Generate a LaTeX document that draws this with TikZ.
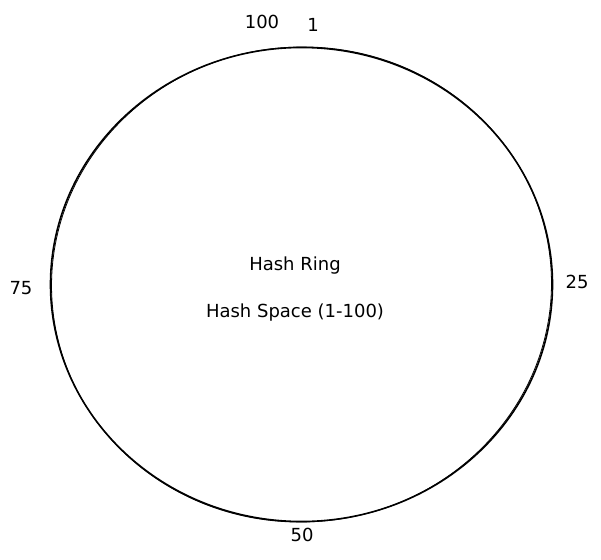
\documentclass[tikz,border=0pt]{standalone}
\usepackage{fontspec}
\setmainfont{DejaVu Sans}
\usetikzlibrary{shapes.geometric}
\begin{document}
\begin{tikzpicture}[x=1pt,y=-1pt,
  lbl/.style={font=\fontsize{18}{21}\selectfont, text=black, inner sep=0pt},
  ringline/.style={draw=black, line width=1.6pt}]
\useasboundingbox (0,0) rectangle (601,559);
\fill[white] (0,0) rectangle (601,559);
% hand-drawn ring: main stroke and a second, slightly offset stroke
\node[ringline, ellipse, minimum width=502pt, minimum height=474pt, inner sep=0pt] (ring) at (301.5,284.5) {};
\draw[draw=black, line width=0.8pt, rotate around={3:(301.5,284.5)}] (301.5,284.5) ellipse [x radius=250pt, y radius=237.5pt];
\node[lbl] (l100) at (262,22) {100};
\node[lbl] (l1) at (313,25) {1};
\node[lbl] (l75) at (21,288) {75};
\node[lbl] (l25) at (577,282) {25};
\node[lbl] (l50) at (302,535) {50};
\node[lbl] (title) at (295,266) {Hash Ring};
\node[lbl] (space) at (295,313) {Hash Space (1-100)};
\end{tikzpicture}
\end{document}
